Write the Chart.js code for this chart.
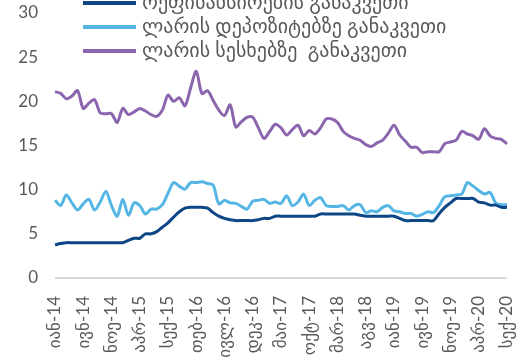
<!DOCTYPE html>
<html>
<head>
<meta charset="utf-8">
<script src="https://cdn.jsdelivr.net/npm/chart.js@4.4.1/dist/chart.umd.min.js"></script>
<style>
  html, body { margin: 0; padding: 0; background: #fff; }
  #wrap { width: 526px; height: 360px; position: relative; }
</style>
</head>
<body>
<div id="wrap"><canvas id="rateChart"></canvas></div>
<script>
// month abbreviations, Jan 2014 .. Sep 2020, one label every 5 months
const monthNames = ['იან', 'თებ', 'მარ', 'აპრ', 'მაი', 'ივნ', 'ივლ', 'აგვ', 'სექ', 'ოქტ', 'ნოე', 'დეკ'];
const years = ['14', '15', '16', '17', '18', '19', '20'];

const seriesNames = [
    'რეფინანსირების განაკვეთი',
    'ლარის დეპოზიტებზე განაკვეთი',
    'ლარის სესხებზე  განაკვეთი'
];

const refinancingRate = [
    3.75, 3.9, 4.0, 4.0, 4.0, 4.0, 4.0, 4.0, 4.0, 4.0, 4.0, 4.0,
    4.0, 4.25, 4.5, 4.5, 5.0, 5.0, 5.25, 5.75, 6.25, 6.9, 7.5, 7.9,
    8.0, 8.0, 8.0, 7.9, 7.4, 7.0, 6.75, 6.6, 6.5, 6.5, 6.5, 6.5,
    6.6, 6.75, 6.75, 7.0, 7.0, 7.0, 7.0, 7.0, 7.0, 7.0, 7.0, 7.25,
    7.25, 7.25, 7.25, 7.25, 7.25, 7.25, 7.1, 7.0, 7.0, 7.0, 7.0, 7.0,
    7.0, 6.75, 6.5, 6.5, 6.5, 6.5, 6.5, 6.5, 7.3, 8.0, 8.5, 9.0,
    9.0, 9.0, 9.0, 8.6, 8.5, 8.25, 8.25, 8.0, 8.0
];

const depositRate = [
    8.8, 8.2, 9.4, 8.5, 7.7, 8.4, 8.9, 7.7, 8.6, 9.8, 8.2, 7.0,
    8.9, 7.1, 8.5, 8.2, 7.25, 7.8, 7.8, 8.3, 9.6, 10.8, 10.4, 10.05,
    10.8, 10.8, 10.9, 10.7, 10.5, 8.4, 8.8, 8.5, 8.45, 8.1, 7.8, 8.7,
    8.8, 8.9, 8.45, 8.6, 8.45, 9.3, 8.2, 8.6, 9.5, 8.2, 8.8, 9.1,
    8.2, 8.1, 8.1, 8.2, 7.7, 8.2, 8.3, 7.4, 7.6, 7.5, 8.0, 8.2,
    7.6, 7.5, 7.3, 7.3, 7.0, 7.2, 7.5, 7.4, 8.2, 9.2, 9.3, 9.4,
    9.5, 10.8, 10.4, 9.9, 9.5, 9.7, 8.5, 8.3, 8.3
];

const loanRate = [
    21.1, 20.9, 20.3, 20.6, 21.2, 19.2, 19.8, 20.2, 18.7, 18.6, 18.6, 17.6,
    19.2, 18.5, 18.8, 19.2, 18.9, 18.5, 18.3, 19.0, 20.7, 20.0, 20.4, 19.5,
    21.5, 23.4, 20.9, 21.2, 20.1, 19.0, 18.4, 19.6, 17.1, 17.7, 18.2, 18.2,
    17.0, 15.8, 16.6, 17.4, 17.0, 16.2, 16.8, 17.3, 16.1, 16.7, 16.3, 17.0,
    18.0, 18.0, 17.6, 16.6, 16.1, 15.8, 15.6, 15.1, 14.9, 15.3, 15.6, 16.4,
    17.3, 16.2, 15.5, 14.8, 14.8, 14.2, 14.3, 14.3, 14.3, 15.2, 15.4, 15.6,
    16.6, 16.3, 16.1, 15.7, 16.9, 16.1, 15.8, 15.7, 15.2
];

const colors = ['#0d4684', '#55b5e5', '#8b65ad'];

const labels = [];
years.forEach(y => {
    monthNames.forEach(m => {
        if (labels.length < refinancingRate.length) labels.push(m + '-' + y);
    });
});

const fontFamily = "Lato, 'DejaVu Sans', sans-serif";
const textColor = '#595959';

// legend drawn inside the plot, top left, like the original
const innerLegend = {
    id: 'innerLegend',
    afterDraw(chart) {
        const ctx = chart.ctx;
        ctx.save();
        ctx.font = '20px ' + fontFamily;
        ctx.textBaseline = 'middle';
        chart.data.datasets.forEach((ds, i) => {
            const y = 3 + i * 24;
            ctx.strokeStyle = ds.borderColor;
            ctx.lineWidth = 4;
            ctx.beginPath();
            ctx.moveTo(83, y);
            ctx.lineTo(136, y);
            ctx.stroke();
            ctx.fillStyle = textColor;
            ctx.fillText(ds.label, 142, y);
        });
        ctx.restore();
    }
};

new Chart(document.getElementById('rateChart'), {
    type: 'line',
    data: {
        labels: labels,
        datasets: [
            { label: seriesNames[0], data: refinancingRate, borderColor: colors[0] },
            { label: seriesNames[1], data: depositRate, borderColor: colors[1] },
            { label: seriesNames[2], data: loanRate, borderColor: colors[2] }
        ]
    },
    options: {
        responsive: true,
        maintainAspectRatio: false,
        animation: false,
        layout: { padding: { top: 13, right: 19, left: 0, bottom: 0 } },
        elements: {
            line: { borderWidth: 3, tension: 0.3 },
            point: { radius: 0 }
        },
        plugins: {
            legend: { display: false },
            tooltip: { enabled: false }
        },
        scales: {
            x: {
                offset: false,
                grid: { display: false },
                border: { display: false },
                afterFit: s => {
                    s.height = 82;
                    s.paddingLeft = 0;
                    s.paddingRight = 0;
                },
                ticks: {
                    autoSkip: false,
                    maxRotation: 90,
                    minRotation: 90,
                    padding: 10,
                    color: textColor,
                    font: { family: fontFamily, size: 17 },
                    callback: function (val, idx) {
                        return idx % 5 === 0 ? this.getLabelForValue(val) : '';
                    }
                }
            },
            y: {
                min: 0,
                max: 30,
                afterFit: s => {
                    s.width = 55;
                    s.paddingTop = 0;
                    s.paddingBottom = 0;
                },
                border: { display: false },
                grid: {
                    drawTicks: false,
                    lineWidth: 2,
                    color: c => c.tick.value === 0 ? '#d9d9d9' : 'rgba(0,0,0,0)'
                },
                ticks: {
                    stepSize: 5,
                    padding: 17,
                    color: textColor,
                    font: { family: fontFamily, size: 17 }
                }
            }
        }
    },
    plugins: [innerLegend]
});
</script>
</body>
</html>
